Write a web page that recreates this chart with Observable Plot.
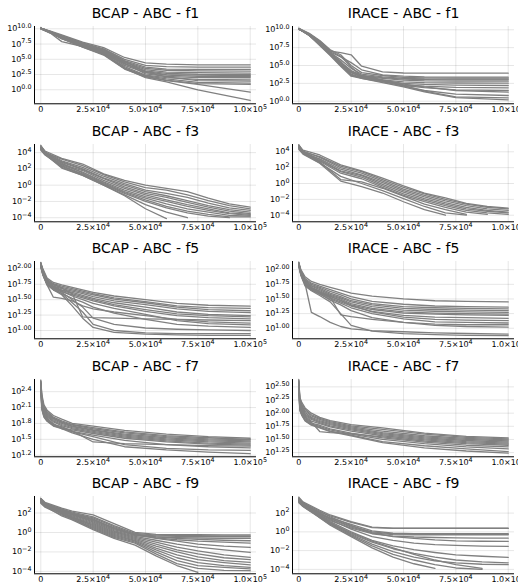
<!DOCTYPE html>
<html>
<head>
<meta charset="utf-8">
<script src="https://cdn.jsdelivr.net/npm/d3@7"></script>
<script src="https://cdn.jsdelivr.net/npm/@observablehq/plot@0.6"></script>
<style>
  html, body { margin: 0; padding: 0; background: #ffffff; }
  #grid { position: relative; width: 518px; height: 588px; overflow: hidden; }
  .panel { position: absolute; width: 259px; height: 117.6px; }
  .panel svg { overflow: visible; }
</style>
</head>
<body>
<div id="grid"></div>
<script>
// ---------- shared x axis ----------
const xTicks = [0, 25000, 50000, 75000, 100000];
const xTickLabels = ["0", "2.5×10^4", "5.0×10^4", "7.5×10^4", "1.0×10^5"];

// ---------- f1 ----------
const xs_f1_bcap = [0, 5000, 10000, 20000, 30000, 40000, 50000, 60000, 75000, 100000];
const runs_f1_bcap = [
  [10.1, 9.6, 9.0, 7.8, 6.9, 5.3, 4.4, 4.2, 4.1, 4.1],
  [10.05, 9.5, 8.9, 7.7, 6.7, 5.0, 4.0, 3.8, 3.7, 3.7],
  [10.1, 9.5, 8.8, 7.6, 6.6, 4.8, 3.7, 3.4, 3.35, 3.33],
  [10.0, 9.4, 8.7, 7.5, 6.4, 4.6, 3.5, 3.2, 3.1, 3.05],
  [10.1, 9.5, 8.6, 7.4, 6.3, 4.5, 3.3, 2.9, 2.8, 2.72],
  [10.05, 9.3, 8.5, 7.3, 6.2, 4.3, 3.1, 2.7, 2.55, 2.5],
  [10.1, 9.4, 8.4, 7.2, 6.0, 4.2, 3.0, 2.5, 2.4, 2.34],
  [10.0, 9.2, 7.9, 7.1, 6.0, 4.0, 2.8, 2.4, 2.2, 2.18],
  [10.1, 9.4, 8.6, 7.3, 6.1, 4.4, 2.6, 2.2, 2.0, 1.97],
  [10.05, 9.3, 8.5, 7.0, 5.8, 3.8, 2.4, 2.0, 1.7, 1.64],
  [10.1, 9.5, 8.7, 7.4, 6.5, 4.7, 2.9, 2.1, 1.5, 1.41],
  [10.0, 9.3, 8.4, 7.2, 5.9, 3.6, 2.3, 1.8, 1.2, 1.08],
  [10.1, 9.4, 8.5, 7.1, 5.8, 3.5, 2.2, 1.6, 1.0, 0.87],
  [10.05, 9.3, 8.4, 7.0, 5.7, 3.4, 2.1, 1.5, 0.9, -0.39],
  [10.1, 9.4, 8.5, 7.2, 5.9, 3.5, 2.0, 1.3, 0.0, -1.75]
];
const xs_f1_irace = [0, 5000, 10000, 15000, 20000, 25000, 30000, 40000, 50000, 60000, 75000, 100000];
const runs_f1_irace = [
  [10.15, 9.4, 8.4, 7.0, 6.8, 6.5, 4.9, 4.1, 3.95, 3.93, 3.93, 3.93],
  [10.1, 9.3, 8.2, 6.9, 6.2, 5.4, 4.4, 3.7, 3.5, 3.4, 3.38, 3.37],
  [10.2, 9.5, 8.5, 7.2, 6.5, 5.0, 4.0, 3.6, 3.35, 3.27, 3.24, 3.23],
  [10.1, 9.2, 8.0, 6.8, 5.8, 4.6, 3.8, 3.4, 3.2, 3.12, 3.1, 3.09],
  [10.15, 9.3, 8.1, 6.6, 5.5, 4.3, 3.6, 3.3, 3.1, 3.03, 3.0, 3.0],
  [10.1, 9.4, 8.3, 6.9, 5.2, 4.0, 3.5, 3.2, 2.95, 2.85, 2.8, 2.8],
  [10.2, 9.2, 7.9, 6.5, 5.0, 4.1, 3.4, 3.0, 2.7, 2.6, 2.55, 2.52],
  [10.1, 9.3, 8.2, 6.7, 5.6, 3.6, 3.3, 2.9, 2.5, 2.35, 2.25, 2.2],
  [10.15, 9.4, 8.4, 7.1, 6.3, 4.8, 3.5, 2.8, 2.3, 2.1, 1.95, 1.88],
  [10.1, 9.2, 7.8, 6.4, 4.9, 3.5, 3.2, 2.7, 2.2, 1.9, 1.6, 1.5],
  [10.2, 9.4, 8.3, 6.8, 5.4, 4.2, 3.6, 3.0, 2.4, 2.0, 1.5, 1.26],
  [10.1, 9.3, 8.1, 6.6, 5.1, 3.8, 3.3, 2.8, 2.1, 1.5, 1.0, 0.8],
  [10.15, 9.2, 8.0, 6.5, 5.3, 4.0, 3.4, 2.9, 2.2, 1.4, 0.6, 0.47],
  [10.1, 9.3, 8.2, 6.7, 5.0, 3.7, 3.2, 2.6, 2.0, 1.3, 0.5, 0.2]
];
const yTicks_f1 = [0, 2.5, 5, 7.5, 10];
const yTickLabels_f1 = ["10^0.0", "10^2.5", "10^5.0", "10^7.5", "10^10.0"];

// ---------- f3 ----------
const xs_f3 = [0, 2000, 10000, 20000, 30000, 40000, 50000, 60000, 70000, 80000, 90000, 100000];
const runs_f3_bcap = [
  [4.8, 4.2, 3.3, 2.6, 1.4, 0.6, 0.0, -0.4, -0.8, -1.6, -2.3, -2.7],
  [4.6, 4.0, 3.2, 2.4, 1.3, 0.4, -0.3, -0.6, -1.2, -1.9, -2.5, -2.9],
  [4.9, 4.1, 3.0, 2.2, 1.1, 0.2, -0.6, -1.0, -1.5, -2.2, -2.8, -3.1],
  [4.5, 3.9, 2.9, 2.0, 0.9, 0.0, -0.8, -1.3, -1.9, -2.5, -3.0, -3.3],
  [4.7, 4.0, 2.8, 1.9, 0.8, -0.2, -1.0, -1.5, -2.1, -2.7, -3.2, -3.5],
  [4.4, 3.8, 2.6, 1.8, 0.6, -0.4, -1.2, -1.8, -2.4, -2.9, -3.4, -3.6],
  [4.6, 3.9, 2.5, 1.6, 0.4, -0.6, -1.4, -2.0, -2.6, -3.1, -3.5, -3.7],
  [4.8, 4.0, 2.7, 1.5, 0.3, -0.8, -1.6, -2.3, -2.9, -3.3, -3.7, -3.8],
  [4.5, 3.8, 2.4, 1.4, 0.2, -0.9, -1.8, -2.6, -3.2, -3.6, -3.9, -3.9],
  [4.3, 3.7, 2.3, 1.3, 0.1, -1.0, -2.0, -2.8, -3.4, -3.8, -4.0, null],
  [4.6, 3.9, 2.2, 1.2, 0.0, -1.2, -2.4, -3.3, -4.0, null, null, null],
  [4.4, 3.8, 2.1, 1.2, 0.0, -1.3, -2.9, -4.1, null, null, null, null]
];
const runs_f3_irace = [
  [4.8, 4.2, 3.6, 2.35, 1.6, 0.67, -0.3, -1.2, -1.8, -2.5, -2.9, -3.1],
  [4.6, 4.0, 3.4, 2.2, 1.5, 0.5, -0.5, -1.3, -2.0, -2.6, -3.0, -3.2],
  [4.9, 4.1, 3.3, 2.0, 1.3, 0.3, -0.7, -1.5, -2.2, -2.8, -3.2, -3.4],
  [4.5, 3.9, 3.1, 1.8, 1.1, 0.1, -0.9, -1.7, -2.4, -3.0, -3.4, -3.6],
  [4.7, 4.0, 3.0, 1.6, 1.0, -0.1, -1.1, -1.9, -2.6, -3.2, -3.5, -3.7],
  [4.4, 3.8, 2.9, 1.5, 0.8, -0.3, -1.3, -2.1, -2.8, -3.4, -3.7, -3.9],
  [4.6, 3.9, 2.8, 1.3, 0.6, -0.5, -1.5, -2.3, -3.0, -3.6, -3.9, null],
  [4.8, 4.0, 2.7, 0.5, 0.2, -0.6, -1.6, -2.6, -3.3, -3.9, null, null],
  [4.5, 3.8, 2.6, 0.9, 0.0, -0.9, -1.9, -2.9, -3.7, -4.0, null, null],
  [4.3, 3.7, 2.55, 0.3, -0.4, -1.2, -2.3, -3.3, -4.0, null, null, null]
];
const yTicks_f3 = [-4, -2, 0, 2, 4];
const yTickLabels_f3 = ["10^−4", "10^−2", "10^0", "10^2", "10^4"];

// ---------- f5 ----------
const xs_f5 = [0, 1000, 3000, 6000, 10000, 15000, 20000, 25000, 35000, 50000, 65000, 80000, 100000];
const runs_f5_bcap = [
  [2.10, 2.0, 1.85, 1.78, 1.74, 1.70, 1.66, 1.62, 1.56, 1.50, 1.44, 1.41, 1.395],
  [2.08, 1.98, 1.83, 1.76, 1.72, 1.68, 1.64, 1.60, 1.53, 1.47, 1.40, 1.37, 1.36],
  [2.06, 1.96, 1.80, 1.75, 1.70, 1.66, 1.62, 1.58, 1.51, 1.45, 1.38, 1.34, 1.32],
  [2.10, 1.95, 1.82, 1.72, 1.68, 1.64, 1.60, 1.55, 1.48, 1.42, 1.35, 1.31, 1.29],
  [2.04, 1.93, 1.78, 1.70, 1.66, 1.62, 1.57, 1.52, 1.45, 1.38, 1.30, 1.26, 1.24],
  [2.08, 1.97, 1.80, 1.74, 1.69, 1.60, 1.55, 1.50, 1.42, 1.34, 1.27, 1.24, 1.22],
  [2.05, 1.92, 1.76, 1.68, 1.63, 1.58, 1.53, 1.48, 1.40, 1.31, 1.24, 1.21, 1.19],
  [2.09, 1.95, 1.79, 1.72, 1.65, 1.60, 1.22, 1.21, 1.20, 1.19, 1.18, 1.17, 1.16],
  [2.03, 1.90, 1.74, 1.54, 1.52, 1.48, 1.40, 1.35, 1.30, 1.24, 1.18, 1.14, 1.12],
  [2.07, 1.94, 1.77, 1.70, 1.64, 1.56, 1.50, 1.44, 1.36, 1.26, 1.16, 1.11, 1.09],
  [2.05, 1.91, 1.75, 1.66, 1.60, 1.52, 1.46, 1.38, 1.28, 1.18, 1.10, 1.07, 1.05],
  [2.10, 1.96, 1.78, 1.70, 1.62, 1.50, 1.38, 1.20, 1.10, 1.04, 1.02, 1.01, 1.00],
  [2.06, 1.92, 1.76, 1.68, 1.60, 1.45, 1.30, 1.10, 1.00, 0.96, 0.95, 0.95, 0.95],
  [2.04, 1.90, 1.74, 1.66, 1.58, 1.40, 1.20, 1.05, 0.97, 0.94, 0.93, 0.92, 0.92]
];
const runs_f5_irace = [
  [2.12, 2.0, 1.88, 1.80, 1.75, 1.70, 1.65, 1.60, 1.55, 1.50, 1.47, 1.46, 1.45],
  [2.10, 1.98, 1.85, 1.77, 1.72, 1.66, 1.60, 1.54, 1.46, 1.41, 1.38, 1.37, 1.36],
  [2.13, 1.97, 1.83, 1.75, 1.70, 1.63, 1.57, 1.50, 1.42, 1.37, 1.35, 1.34, 1.33],
  [2.08, 1.95, 1.80, 1.73, 1.68, 1.60, 1.54, 1.47, 1.40, 1.34, 1.32, 1.31, 1.30],
  [2.11, 1.96, 1.82, 1.72, 1.66, 1.58, 1.52, 1.45, 1.37, 1.31, 1.29, 1.28, 1.27],
  [2.09, 1.94, 1.78, 1.70, 1.64, 1.56, 1.50, 1.42, 1.34, 1.28, 1.26, 1.25, 1.24],
  [2.12, 1.93, 1.77, 1.68, 1.62, 1.54, 1.48, 1.40, 1.32, 1.26, 1.24, 1.23, 1.22],
  [2.07, 1.92, 1.76, 1.66, 1.60, 1.52, 1.45, 1.38, 1.29, 1.22, 1.19, 1.18, 1.17],
  [2.10, 1.95, 1.79, 1.69, 1.62, 1.55, 1.47, 1.39, 1.28, 1.19, 1.15, 1.14, 1.13],
  [2.06, 1.91, 1.74, 1.65, 1.58, 1.50, 1.43, 1.35, 1.25, 1.16, 1.11, 1.10, 1.09],
  [2.11, 1.94, 1.77, 1.68, 1.61, 1.53, 1.23, 1.20, 1.15, 1.10, 1.07, 1.06, 1.06],
  [2.08, 1.92, 1.75, 1.66, 1.59, 1.48, 1.40, 1.30, 1.18, 1.10, 1.05, 1.03, 1.02],
  [2.09, 1.93, 1.76, 1.27, 1.20, 1.10, 1.03, 0.99, 0.96, 0.94, 0.92, 0.91, 0.90],
  [2.07, 1.90, 1.72, 1.64, 1.56, 1.45, 1.25, 1.05, 0.95, 0.91, 0.89, 0.88, 0.875]
];
const yTicks_f5 = [1.0, 1.25, 1.5, 1.75, 2.0];
const yTickLabels_f5 = ["10^1.00", "10^1.25", "10^1.50", "10^1.75", "10^2.00"];

// ---------- f7 ----------
const xs_f7 = [0, 500, 1500, 3000, 6000, 10000, 15000, 25000, 40000, 60000, 80000, 100000];
const runs_f7_bcap = [
  [2.60, 2.35, 2.15, 2.05, 1.95, 1.88, 1.80, 1.75, 1.67, 1.60, 1.55, 1.52],
  [2.62, 2.30, 2.12, 2.02, 1.92, 1.85, 1.78, 1.72, 1.64, 1.57, 1.53, 1.50],
  [2.55, 2.28, 2.10, 2.00, 1.90, 1.83, 1.77, 1.70, 1.62, 1.55, 1.51, 1.49],
  [2.58, 2.25, 2.08, 1.98, 1.89, 1.82, 1.75, 1.68, 1.60, 1.53, 1.49, 1.47],
  [2.50, 2.22, 2.05, 1.96, 1.87, 1.80, 1.74, 1.67, 1.58, 1.51, 1.47, 1.45],
  [2.60, 2.20, 2.03, 1.94, 1.85, 1.78, 1.72, 1.65, 1.56, 1.49, 1.45, 1.43],
  [2.52, 2.18, 2.00, 1.92, 1.83, 1.76, 1.70, 1.63, 1.54, 1.47, 1.43, 1.41],
  [2.56, 2.15, 1.98, 1.90, 1.80, 1.70, 1.68, 1.61, 1.52, 1.45, 1.41, 1.39],
  [2.48, 2.12, 1.96, 1.88, 1.78, 1.74, 1.66, 1.45, 1.42, 1.40, 1.38, 1.37],
  [2.54, 2.10, 1.95, 1.86, 1.77, 1.72, 1.65, 1.58, 1.48, 1.40, 1.36, 1.34],
  [2.50, 2.08, 1.93, 1.85, 1.76, 1.71, 1.64, 1.55, 1.40, 1.33, 1.30, 1.29],
  [2.45, 2.06, 1.92, 1.84, 1.75, 1.70, 1.62, 1.50, 1.36, 1.30, 1.26, 1.23]
];
const runs_f7_irace = [
  [2.62, 2.30, 2.20, 2.10, 2.00, 1.92, 1.86, 1.78, 1.72, 1.62, 1.56, 1.53],
  [2.64, 2.28, 2.17, 2.07, 1.97, 1.90, 1.84, 1.76, 1.69, 1.60, 1.54, 1.51],
  [2.58, 2.25, 2.14, 2.04, 1.95, 1.88, 1.82, 1.74, 1.66, 1.57, 1.52, 1.49],
  [2.60, 2.22, 2.12, 2.01, 1.92, 1.86, 1.80, 1.72, 1.63, 1.55, 1.50, 1.47],
  [2.55, 2.20, 2.10, 1.98, 1.90, 1.84, 1.78, 1.70, 1.61, 1.53, 1.48, 1.45],
  [2.62, 2.18, 2.07, 1.96, 1.88, 1.82, 1.76, 1.68, 1.59, 1.51, 1.46, 1.43],
  [2.52, 2.15, 2.05, 1.94, 1.85, 1.80, 1.74, 1.66, 1.57, 1.49, 1.44, 1.41],
  [2.56, 2.12, 2.02, 1.92, 1.83, 1.65, 1.63, 1.61, 1.55, 1.47, 1.42, 1.39],
  [2.50, 2.10, 2.00, 1.90, 1.81, 1.77, 1.70, 1.62, 1.53, 1.45, 1.39, 1.36],
  [2.54, 2.08, 1.98, 1.88, 1.79, 1.75, 1.68, 1.60, 1.50, 1.42, 1.36, 1.32],
  [2.48, 2.06, 1.96, 1.86, 1.78, 1.73, 1.66, 1.58, 1.46, 1.38, 1.32, 1.27],
  [2.46, 2.05, 1.95, 1.85, 1.77, 1.72, 1.65, 1.57, 1.44, 1.34, 1.28, 1.24]
];
const yTicks_f7_bcap = [1.2, 1.5, 1.8, 2.1, 2.4];
const yTickLabels_f7_bcap = ["10^1.2", "10^1.5", "10^1.8", "10^2.1", "10^2.4"];
const yTicks_f7_irace = [1.25, 1.5, 1.75, 2.0, 2.25, 2.5];
const yTickLabels_f7_irace = ["10^1.25", "10^1.50", "10^1.75", "10^2.00", "10^2.25", "10^2.50"];

// ---------- f9 ----------
const xs_f9 = [0, 2000, 10000, 15000, 25000, 35000, 45000, 55000, 65000, 75000, 87500, 100000];
const runs_f9_bcap = [
  [3.5, 3.1, 2.5, 2.2, 1.8, 0.9, 0.0, -0.2, -0.22, -0.23, -0.24, -0.24],
  [3.3, 3.0, 2.4, 2.1, 1.6, 0.7, -0.1, -0.28, -0.31, -0.33, -0.34, -0.34],
  [3.4, 2.9, 2.3, 2.0, 1.5, 0.6, -0.2, -0.35, -0.40, -0.42, -0.44, -0.44],
  [3.2, 2.8, 2.2, 1.9, 1.3, 0.5, -0.3, -0.45, -0.52, -0.57, -0.60, -0.61],
  [3.5, 3.0, 2.4, 2.0, 1.4, 0.4, -0.2, -0.45, -0.60, -0.72, -0.80, -0.85],
  [3.1, 2.7, 2.1, 1.8, 1.2, 0.3, -0.3, -0.55, -0.75, -0.90, -1.00, -1.09],
  [3.4, 2.9, 2.3, 1.9, 1.3, 0.4, -0.2, -0.6, -0.9, -1.2, -1.4, -1.54],
  [3.2, 2.8, 2.2, 1.8, 1.1, 0.2, -0.4, -0.8, -1.2, -1.5, -1.8, -2.05],
  [3.5, 3.0, 2.0, 1.7, 1.0, 0.1, -0.5, -1.0, -1.5, -1.9, -2.3, -2.56],
  [3.3, 2.9, 2.1, 1.6, 0.9, 0.0, -0.6, -1.2, -1.8, -2.2, -2.6, -2.8],
  [3.1, 2.7, 1.9, 1.5, 0.8, -0.1, -0.7, -1.4, -2.0, -2.5, -2.9, -3.07],
  [3.4, 2.8, 2.0, 1.6, 0.7, -0.2, -0.8, -1.6, -2.3, -2.8, -3.1, -3.34],
  [3.2, 2.8, 2.1, 1.5, 0.6, -0.3, -0.9, -1.8, -2.6, -3.1, -3.4, -3.58],
  [3.0, 2.6, 1.8, 1.4, 0.5, -0.4, -1.0, -2.0, -2.9, -3.4, -3.6, -3.75],
  [3.3, 2.9, 1.9, 1.4, 0.4, -0.5, -1.1, -2.2, -3.2, -3.7, -3.9, -3.92],
  [3.1, 2.7, 1.7, 1.3, 0.3, -0.6, -1.3, -2.4, -3.4, -4.1, null, null]
];
const runs_f9_irace = [
  [3.7, 3.2, 2.3, 1.8, 1.1, 0.5, 0.4, 0.39, 0.39, 0.39, 0.39, 0.39],
  [3.5, 3.0, 2.1, 1.7, 1.0, 0.45, 0.38, 0.37, 0.37, 0.37, 0.37, 0.37],
  [3.6, 3.1, 2.0, 1.5, 0.8, 0.1, -0.15, -0.2, -0.2, -0.2, -0.2, -0.2],
  [3.3, 2.9, 1.9, 1.4, 0.6, 0.0, -0.22, -0.25, -0.26, -0.26, -0.26, -0.26],
  [3.5, 3.0, 2.0, 1.4, 0.5, -0.1, -0.3, -0.32, -0.32, -0.32, -0.32, -0.32],
  [3.2, 2.8, 1.8, 1.2, 0.4, -0.2, -0.45, -0.55, -0.6, -0.64, -0.66, -0.67],
  [3.6, 3.1, 2.2, 1.6, 0.7, -0.1, -0.5, -0.7, -0.85, -0.95, -1.0, -1.02],
  [3.4, 2.9, 1.9, 1.3, 0.3, -0.5, -0.9, -1.2, -1.35, -1.45, -1.52, -1.55],
  [3.3, 2.8, 1.7, 1.1, 0.0, -0.9, -1.5, -1.9, -2.2, -2.45, -2.6, -2.72],
  [3.5, 3.0, 1.8, 1.0, -0.2, -1.1, -1.8, -2.3, -2.7, -3.0, -3.2, -3.3],
  [3.2, 2.7, 1.6, 0.9, -0.3, -1.3, -2.1, -2.7, -3.1, -3.3, -3.45, -3.5],
  [3.4, 2.9, 1.5, 0.8, -0.4, -1.5, -2.4, -3.0, -3.5, -3.85, -4.0, null],
  [3.1, 2.7, 1.5, 0.7, -0.5, -1.7, -2.7, -3.4, -3.9, null, null, null],
  [3.3, 2.8, 1.7, 0.9, -0.1, -1.0, -1.7, -2.4, -3.0, -3.5, -3.9, null]
];
const yTicks_f9 = [-4, -2, 0, 2];
const yTickLabels_f9 = ["10^−4", "10^−2", "10^0", "10^2"];

// ---------- panel list ----------
const panels = [
  {title: "BCAP - ABC - f1",  xs: xs_f1_bcap,  runs: runs_f1_bcap,  dom: [-2.3, 10.38],  ticks: yTicks_f1, labels: yTickLabels_f1},
  {title: "IRACE - ABC - f1", xs: xs_f1_irace, runs: runs_f1_irace, dom: [-0.36, 10.46], ticks: yTicks_f1, labels: yTickLabels_f1},
  {title: "BCAP - ABC - f3",  xs: xs_f3, runs: runs_f3_bcap,  dom: [-4.5, 5.0],   ticks: yTicks_f3, labels: yTickLabels_f3},
  {title: "IRACE - ABC - f3", xs: xs_f3, runs: runs_f3_irace, dom: [-4.83, 4.92], ticks: yTicks_f3, labels: yTickLabels_f3},
  {title: "BCAP - ABC - f5",  xs: xs_f5, runs: runs_f5_bcap,  dom: [0.865, 2.12], ticks: yTicks_f5, labels: yTickLabels_f5},
  {title: "IRACE - ABC - f5", xs: xs_f5, runs: runs_f5_irace, dom: [0.82, 2.14],  ticks: yTicks_f5, labels: yTickLabels_f5},
  {title: "BCAP - ABC - f7",  xs: xs_f7, runs: runs_f7_bcap,  dom: [1.17, 2.63],  ticks: yTicks_f7_bcap, labels: yTickLabels_f7_bcap},
  {title: "IRACE - ABC - f7", xs: xs_f7, runs: runs_f7_irace, dom: [1.17, 2.64],  ticks: yTicks_f7_irace, labels: yTickLabels_f7_irace},
  {title: "BCAP - ABC - f9",  xs: xs_f9, runs: runs_f9_bcap,  dom: [-4.25, 3.7],  ticks: yTicks_f9, labels: yTickLabels_f9},
  {title: "IRACE - ABC - f9", xs: xs_f9, runs: runs_f9_irace, dom: [-4.47, 3.77], ticks: yTicks_f9, labels: yTickLabels_f9}
];

const SVGNS = "http://www.w3.org/2000/svg";
function supify(svg) {
  svg.querySelectorAll("text").forEach(t => {
    const s = t.textContent;
    const i = s.indexOf("^");
    if (i < 0) return;
    while (t.firstChild) t.removeChild(t.firstChild);
    const a = document.createElementNS(SVGNS, "tspan");
    a.textContent = s.slice(0, i);
    const b = document.createElementNS(SVGNS, "tspan");
    b.textContent = s.slice(i + 1);
    b.setAttribute("dy", "-0.5em");
    b.setAttribute("font-size", "0.8em");
    t.appendChild(a);
    t.appendChild(b);
  });
}

const grid = document.getElementById("grid");
const xDomain = [-3000, 103000];

panels.forEach((p, k) => {
  const rows = [];
  p.runs.forEach((run, r) => {
    run.forEach((v, j) => {
      if (v !== null) rows.push({x: p.xs[j], y: Math.pow(10, v), run: r});
    });
  });
  const yTickVals = p.ticks.map(t => Math.pow(10, t));
  const yLabelOf = new Map(yTickVals.map((v, i) => [v, p.labels[i]]));
  const xLabelOf = new Map(xTicks.map((v, i) => [v, xTickLabels[i]]));
  const yLo = Math.pow(10, p.dom[0]);

  const chart = Plot.plot({
    width: 259,
    height: 117.6,
    marginTop: 26,
    marginBottom: 14.3,
    marginLeft: 34,
    marginRight: 3,
    style: {fontFamily: "DejaVu Sans", fontSize: "8px", background: "transparent", color: "#000", overflow: "visible"},
    x: {domain: xDomain, ticks: xTicks, tickFormat: d => xLabelOf.get(d), tickSize: 0, tickPadding: 2.5, grid: true, label: null},
    y: {type: "log", domain: [yLo, Math.pow(10, p.dom[1])], ticks: yTickVals, tickFormat: d => yLabelOf.get(d), tickSize: 0, tickPadding: 3, grid: true, label: null},
    marks: [
      Plot.line(rows, {x: "x", y: "y", z: "run", stroke: "#808080", strokeWidth: 1.3}),
      Plot.ruleX([xDomain[0]], {stroke: "#000", strokeWidth: 1}),
      Plot.ruleY([yLo], {stroke: "#000", strokeWidth: 1}),
      Plot.text([p.title], {frameAnchor: "top", lineAnchor: "middle", dy: -13, fontSize: 14, fill: "#000", fontFamily: "DejaVu Sans"})
    ]
  });
  supify(chart);
  const div = document.createElement("div");
  div.className = "panel";
  div.style.left = ((k % 2) * 258) + "px";
  div.style.top = (Math.floor(k / 2) * 117.6) + "px";
  div.appendChild(chart);
  grid.appendChild(div);
});
</script>
</body>
</html>
